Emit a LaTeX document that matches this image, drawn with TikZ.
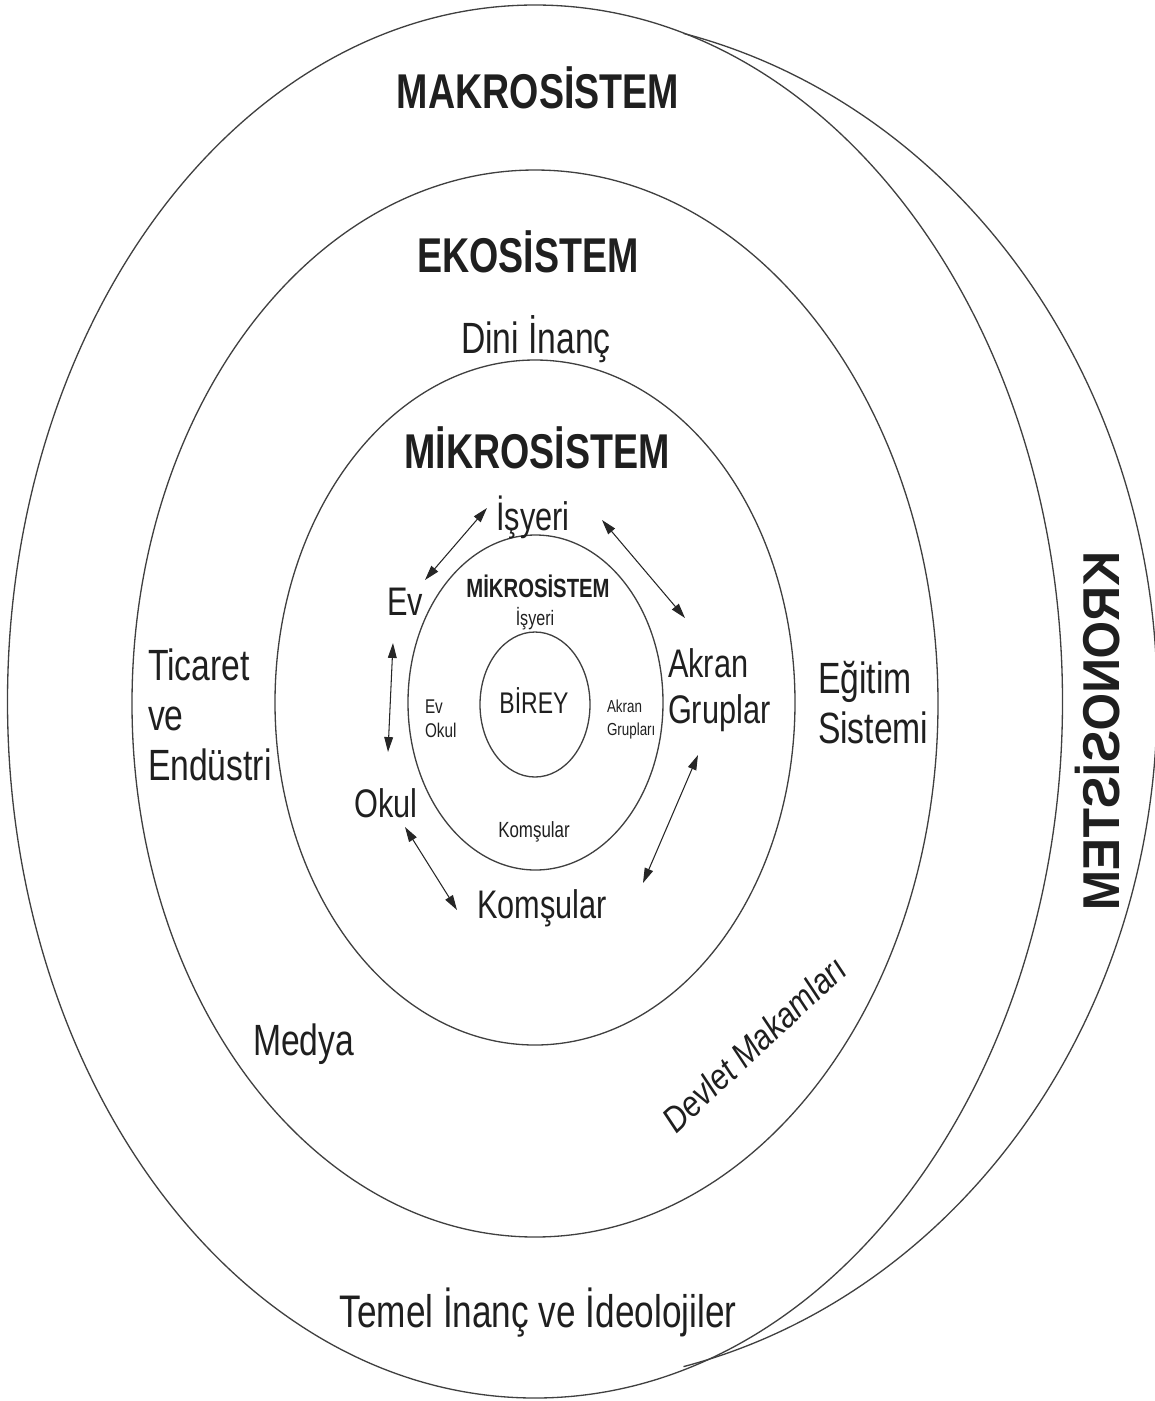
\documentclass[tikz,border=0pt]{standalone}
\usepackage{fontspec}
\setmainfont{Liberation Sans}
\newfontfamily\nar[FakeStretch=0.77]{Liberation Sans}
\newfontfamily\kron[FakeStretch=0.93]{Liberation Sans}
\newfontfamily\dev[FakeStretch=0.85]{Liberation Sans}
\usetikzlibrary{arrows.meta}
\begin{document}
\begin{tikzpicture}[x=0.02cm, y=-0.02cm,
  ring/.style={draw=black!75, line width=0.75pt},
  lbl/.style={inner sep=0pt, outer sep=0pt, text=black!88},
  head/.style={lbl, font=\nar\bfseries\fontsize{27.8pt}{30pt}\selectfont},
  midlbl/.style={lbl, font=\nar\fontsize{22.7pt}{26.1pt}\selectfont},
  outlbl/.style={lbl, font=\nar\fontsize{24.9pt}{28.35pt}\selectfont},
  link/.style={{Triangle[length=8.5pt,width=5pt]}-{Triangle[length=8.5pt,width=5pt]}, line width=0.6pt, draw=black!85}]
\useasboundingbox (0,0) rectangle (1154,1401);
% rings
\draw[ring] (683.5,33.4) arc[start angle=-76.7, end angle=76.7, x radius=615, y radius=685];
\draw[ring] (535,701.5) ellipse [x radius=527.5, y radius=696.5];
\draw[ring] (535,703.5) ellipse [x radius=403, y radius=533.5];
\draw[ring] (535,702.5) ellipse [x radius=260, y radius=342.5];
\draw[ring] (535.5,702.5) ellipse [x radius=127.5, y radius=167.5];
\draw[ring] (535,704.5) ellipse [x radius=55, y radius=72.5];
% headings
\node[head, anchor=base] (makro) at (538,108) {MAKROSİSTEM};
\node[head, anchor=base] (eko) at (528,272) {EKOSİSTEM};
\node[head, anchor=base] (mikro) at (537,468) {MİKROSİSTEM};
\node[lbl, anchor=center, rotate=-90, yscale=-1, font=\kron\bfseries\fontsize{29.5pt}{30pt}\selectfont] (krono) at (1098,731) {KRONOSİSTEM};
% outer labels
\node[outlbl, anchor=base] (dini) at (536,353) {Dini İnanç};
\node[outlbl, anchor=base west, align=left] (ticaret) at (148,780) {Ticaret\\ve\\Endüstri};
\node[outlbl, anchor=base west, align=left] (egitim) at (818,743) {Eğitim\\Sistemi};
\node[outlbl, anchor=base west] (medya) at (253,1055) {Medya};
\node[lbl, anchor=base, font=\nar\fontsize{26pt}{28pt}\selectfont] (temel) at (538,1327) {Temel İnanç ve İdeolojiler};
\node[lbl, anchor=center, rotate=43, font=\dev\itshape\fontsize{20.4pt}{22pt}\selectfont] (devlet) at (754,1044) {Devlet Makamları};
% microsystem labels
\node[midlbl, anchor=base] (isyeri) at (533,530) {İşyeri};
\node[midlbl, anchor=base] (ev) at (405,615) {Ev};
\node[midlbl, anchor=base west, align=left] (akran) at (668,723) {Akran\\Gruplar};
\node[midlbl, anchor=base] (okul) at (386,817) {Okul};
\node[midlbl, anchor=base] (komsu) at (542,918) {Komşular};
% inner ring labels
\node[lbl, anchor=base, font=\nar\bfseries\fontsize{15pt}{16pt}\selectfont] (mikros) at (538,597) {MİKROSİSTEM};
\node[lbl, anchor=base, font=\nar\fontsize{11.9pt}{13pt}\selectfont] (isyeris) at (535,625) {İşyeri};
\node[lbl, anchor=base, font=\nar\fontsize{17pt}{18pt}\selectfont] (birey) at (534,713) {BİREY};
\node[lbl, anchor=base west, align=left, font=\nar\fontsize{11.3pt}{13.6pt}\selectfont] (evokul) at (425,737) {Ev\\Okul};
\node[lbl, anchor=base west, align=left, font=\nar\fontsize{9.9pt}{13pt}\selectfont] (akrans) at (607,735) {Akran\\Grupları};
\node[lbl, anchor=base, font=\nar\fontsize{12.5pt}{13pt}\selectfont] (komsus) at (534,837) {Komşular};
% arrow ends
\coordinate (e1a) at (425,580); \coordinate (e1b) at (487,508);
\coordinate (e2a) at (602,520); \coordinate (e2b) at (685,618);
\coordinate (e3a) at (393,643); \coordinate (e3b) at (388,752);
\coordinate (e4a) at (405,827); \coordinate (e4b) at (457,910);
\coordinate (e5a) at (698,755); \coordinate (e5b) at (643,883);
\draw[link] (e1a) -- (e1b);
\draw[link] (e2a) -- (e2b);
\draw[link] (e3a) -- (e3b);
\draw[link] (e4a) -- (e4b);
\draw[link] (e5a) -- (e5b);
\end{tikzpicture}
\end{document}
